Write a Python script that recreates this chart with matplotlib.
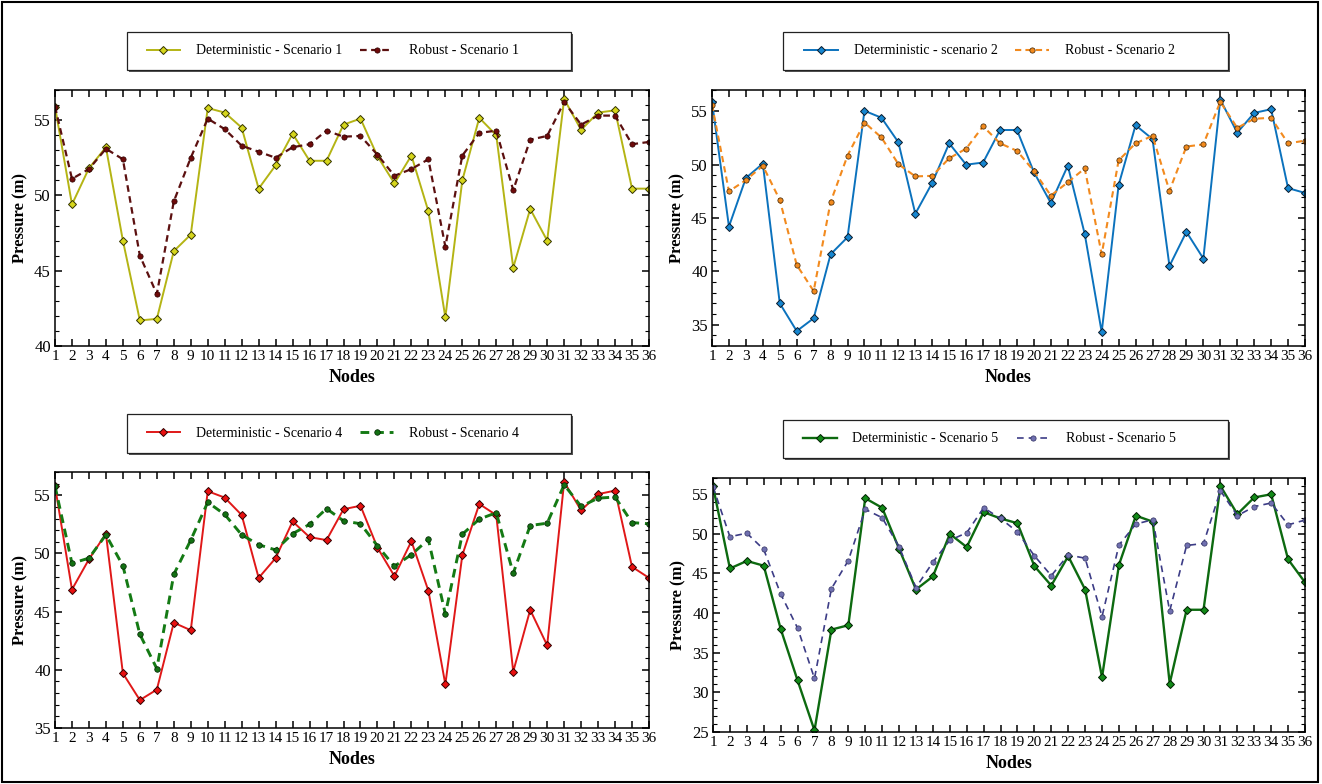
import matplotlib
matplotlib.use("Agg")
import matplotlib.pyplot as plt
from matplotlib.patches import Rectangle
from matplotlib.ticker import MultipleLocator

plt.rcParams['font.family'] = 'serif'
plt.rcParams['font.serif'] = ['Liberation Serif', 'DejaVu Serif']

nodes = list(range(1, 37))

det_s1 = [55.9, 49.4, 51.8, 53.2, 47.0, 41.7, 41.8, 46.3, 47.4, 55.8, 55.5, 54.5,
          50.45, 52.0, 54.1, 52.3, 52.3, 54.7, 55.1, 52.6, 50.8, 52.65, 48.95, 41.9,
          51.0, 55.15, 54.0, 45.2, 49.1, 47.0, 56.4, 54.35, 55.5, 55.65, 50.45, 50.45]
rob_s1 = [55.9, 51.1, 51.75, 53.1, 52.4, 46.0, 43.45, 49.6, 52.5, 55.1, 54.4, 53.3,
          52.9, 52.5, 53.2, 53.4, 54.3, 53.9, 53.95, 52.7, 51.3, 51.75, 52.4, 46.6,
          52.65, 54.15, 54.3, 50.35, 53.7, 53.95, 56.2, 54.7, 55.3, 55.3, 53.4, 53.55]

det_s2 = [55.9, 44.2, 48.75, 50.1, 37.0, 34.4, 35.6, 41.6, 43.2, 55.05, 54.4, 52.1,
          45.4, 48.3, 52.0, 50.0, 50.2, 53.25, 53.25, 49.3, 46.4, 49.9, 43.5, 34.3,
          48.1, 53.7, 52.4, 40.5, 43.7, 41.2, 56.1, 53.0, 54.85, 55.2, 47.8, 47.35]
rob_s2 = [55.6, 47.5, 48.55, 49.9, 46.7, 40.6, 38.15, 46.5, 50.85, 53.95, 52.55, 50.05,
          48.9, 48.95, 50.6, 51.5, 53.6, 52.0, 51.3, 49.4, 47.1, 48.35, 49.65, 41.6,
          50.4, 52.0, 52.7, 47.55, 51.7, 51.9, 55.9, 53.45, 54.3, 54.4, 52.0, 52.25]

det_s4 = [55.8, 46.9, 49.5, 51.7, 39.7, 37.4, 38.3, 44.05, 43.4, 55.35, 54.8, 53.3,
          47.9, 49.6, 52.75, 51.4, 51.15, 53.8, 54.1, 50.5, 48.05, 51.05, 46.8, 38.75,
          49.85, 54.25, 53.3, 39.85, 45.15, 42.1, 56.15, 53.7, 55.1, 55.4, 48.85, 47.9]
rob_s4 = [55.8, 49.15, 49.6, 51.6, 48.95, 43.05, 40.1, 48.2, 51.15, 54.4, 53.35, 51.6,
          50.75, 50.3, 51.7, 52.5, 53.85, 52.8, 52.55, 50.65, 48.9, 49.9, 51.2, 44.8,
          51.65, 52.95, 53.5, 48.3, 52.4, 52.6, 55.9, 54.05, 54.75, 54.85, 52.65, 52.55]

det_s5 = [55.95, 45.6, 46.55, 45.95, 38.0, 31.5, 25.2, 37.9, 38.45, 54.45, 53.25, 48.1,
          42.95, 44.6, 49.95, 48.3, 52.7, 51.9, 51.3, 45.9, 43.45, 47.15, 42.95, 31.9,
          46.05, 52.25, 51.5, 31.1, 40.4, 40.4, 56.0, 52.45, 54.55, 54.95, 46.75, 43.85]
rob_s5 = [55.9, 49.6, 50.05, 48.0, 42.4, 38.1, 31.75, 43.05, 46.6, 53.05, 52.0, 48.35,
          43.2, 46.4, 49.15, 50.1, 53.25, 51.9, 50.2, 47.2, 44.7, 47.3, 46.9, 39.55,
          48.55, 51.2, 51.75, 40.25, 48.5, 48.75, 55.4, 52.25, 53.4, 53.85, 51.1, 51.7]

W, H = 1322, 784

fig = plt.figure(figsize=(W / 100, H / 100), dpi=100)


def px_box(x0, y0, x1, y1):
    # pixel box (top-left origin) -> figure fraction [left, bottom, width, height]
    return [x0 / W, 1 - y1 / H, (x1 - x0) / W, (y1 - y0) / H]


def draw_panel(box, leg_box, det, rob, ylim, det_style, rob_style, labels):
    ax = fig.add_axes(px_box(*box))
    ax.plot(nodes, det, label=labels[0], **det_style)
    ax.plot(nodes, rob, label=labels[1], **rob_style)
    ax.set_xlim(1, 36)
    ax.set_ylim(*ylim)
    ax.set_xticks(nodes)
    ax.yaxis.set_major_locator(MultipleLocator(5))
    ax.yaxis.set_minor_locator(MultipleLocator(1))
    ax.tick_params(axis='both', which='both', direction='in', top=True, right=True)
    ax.tick_params(axis='both', which='major', length=5, width=1.1)
    ax.tick_params(axis='y', which='minor', length=3, width=0.8)
    ax.tick_params(axis='x', labelsize=11, pad=3)
    ax.tick_params(axis='y', labelsize=12, pad=3)
    for s in ax.spines.values():
        s.set_linewidth(1.1)
    ax.set_xlabel('Nodes', fontsize=13, fontweight='bold', labelpad=4)
    ax.set_ylabel('Pressure (m)', fontsize=12, fontweight='bold', labelpad=4)

    # legend frame with a small shadow, legend drawn on top at figure level
    lx0, ly0, lx1, ly1 = leg_box
    shadow = Rectangle((lx0 / W + 1.5 / W, 1 - ly1 / H - 1.5 / H), (lx1 - lx0) / W, (ly1 - ly0) / H,
                       transform=fig.transFigure, facecolor='#555555', edgecolor='none', zorder=1)
    frame = Rectangle((lx0 / W, 1 - ly1 / H), (lx1 - lx0) / W, (ly1 - ly0) / H,
                      transform=fig.transFigure, facecolor='white', edgecolor='#222222',
                      linewidth=0.9, zorder=2)
    fig.add_artist(shadow)
    fig.add_artist(frame)
    handles, labs = ax.get_legend_handles_labels()
    leg = fig.legend(handles, labs, loc='center',
                     bbox_to_anchor=(((lx0 + lx1) / 2 - 16) / W, 1 - (ly0 + ly1) / 2 / H),
                     ncol=2, frameon=False, fontsize=10,
                     handlelength=2.4, columnspacing=1.3, handletextpad=1.15)
    leg.set_zorder(3)
    return ax


draw_panel((55, 90, 649, 346), (127, 32, 571, 70), det_s1, rob_s1, (40, 57),
           dict(color='#b4b414', lw=1.4, marker='D', ms=4.5, mfc='#d6d61c', mec='#333300', mew=0.7),
           dict(color='#5c1010', lw=1.6, ls=(0, (3, 2)), marker='o', ms=3.8, mfc='#6e0a0a', mec='#2a0000', mew=0.5),
           ('Deterministic - Scenario 1', 'Robust - Scenario 1'))

draw_panel((712, 90, 1305, 346), (783, 32, 1228, 70), det_s2, rob_s2, (33, 57),
           dict(color='#0b72bd', lw=1.4, marker='D', ms=4.5, mfc='#1686d0', mec='#0a1a2a', mew=0.7),
           dict(color='#f28a1e', lw=1.5, ls=(0, (3, 2)), marker='o', ms=3.8, mfc='#f28a1e', mec='#3a2000', mew=0.5),
           ('Deterministic - scenario 2', 'Robust - Scenario 2'))

draw_panel((55, 472, 649, 728), (127, 414, 571, 453), det_s4, rob_s4, (35, 57),
           dict(color='#e01818', lw=1.4, marker='D', ms=4.5, mfc='#e81010', mec='#300000', mew=0.7),
           dict(color='#147a14', lw=2.1, ls=(0, (3, 2)), marker='o', ms=4, mfc='#137013', mec='#002000', mew=0.5),
           ('Deterministic - Scenario 4', 'Robust - Scenario 4'))

draw_panel((713, 478, 1305, 732), (783, 420, 1228, 458), det_s5, rob_s5, (25, 57),
           dict(color='#0d6a10', lw=1.7, marker='D', ms=4.5, mfc='#128a18', mec='#002000', mew=0.7),
           dict(color='#3c3c86', lw=1.2, ls=(0, (4, 3)), marker='o', ms=3.8, mfc='#7070b0', mec='#303060', mew=0.5),
           ('Deterministic - Scenario 5', 'Robust - Scenario 5'))

# outer frame round the whole figure
fig.add_artist(Rectangle((2 / W, 2 / H), (W - 6) / W, (H - 4) / H, transform=fig.transFigure,
                         facecolor='none', edgecolor='black', linewidth=1.5))

fig.savefig('out.png', dpi=100)
